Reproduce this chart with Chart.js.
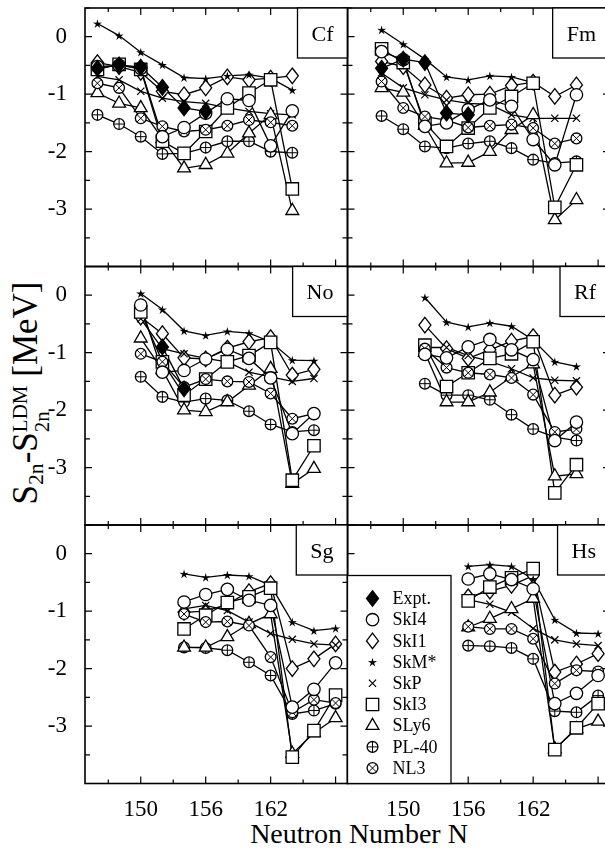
<!DOCTYPE html>
<html>
<head>
<meta charset="utf-8">
<script src="https://cdn.jsdelivr.net/npm/chart.js@4.4.1/dist/chart.umd.min.js"></script>
<style>
  html, body { margin: 0; padding: 0; background: #fff; overflow: hidden; }
  #wrap { position: relative; width: 612px; height: 850px; }
  #wrap canvas { position: absolute; left: 0; top: 0; }
  .ttl { position: absolute; font-family: "Liberation Serif", serif; color: #000; white-space: nowrap; line-height: 1; }
  #xtitle { left: 159px; width: 400px; top: 820px; text-align: center; font-size: 28px; }
  #ytitle { left: 30px; top: 393px; font-size: 35px; transform: translate(-50%, -50%) rotate(-90deg); }
  .sb { font-size: 0.62em; vertical-align: -0.3em; }
  .st { display: inline-block; font-size: 0.6em; line-height: 1.05; vertical-align: -0.55em; text-align: left; }
  .st span { display: block; }
</style>
</head>
<body>
<div id="wrap">
  <div class="ttl" id="xtitle">Neutron Number N</div>
  <div class="ttl" id="ytitle">S<span class="sb">2n</span>-S<span class="st"><span>LDM</span><span>2n</span></span> [MeV]</div>
</div>
<script>
// neutron numbers per panel
const cfN = [146, 148, 150, 152, 154, 156, 158, 160, 162, 164];
const fmN = [148, 150, 152, 154, 156, 158, 160, 162, 164, 166];
const noN = [150, 152, 154, 156, 158, 160, 162, 164, 166];
const rfN = [152, 154, 156, 158, 160, 162, 164, 166];
const sgN = [154, 156, 158, 160, 162, 164, 166, 168];
const hsN = [156, 158, 160, 162, 164, 166, 168];

// Cf
const cfExpt = [-0.55, -0.49, -0.53, -0.88, -1.24, -1.30, null, null, null, null];
const cfSkI4 = [-0.52, -0.50, -0.55, -1.74, -1.58, -1.33, -1.08, -1.11, -1.90, -1.29];
const cfSkI1 = [-0.45, -0.52, -0.62, -0.95, -1.01, -0.89, -0.70, -0.75, -0.72, -0.68];
const cfSkM = [0.23, 0.02, -0.27, -0.49, -0.71, -0.73, -0.68, -0.66, -0.72, -0.93];
const cfSkP = [-0.69, -0.75, -0.95, -1.07, -1.13, -1.16, -1.24, -1.30, -1.34, -1.36];
const cfSkI3 = [-0.57, -0.48, -0.57, -1.82, -2.03, -1.65, -1.24, -0.98, -0.75, -2.65];
const cfSLy6 = [-0.98, -1.16, -1.24, -1.78, -2.29, -2.23, -2.03, -1.68, -1.36, -3.03];
const cfPL40 = [-1.36, -1.52, -1.74, -2.04, -2.03, -1.93, -1.82, -1.82, -2.00, -2.02];
const cfNL3 = [-0.81, -0.89, -1.42, -1.56, -1.65, -1.62, -1.55, -1.45, -1.49, -1.55];

// Fm
const fmExpt = [-0.55, -0.39, -0.45, -1.33, -1.36, null, null, null, null, null];
const fmSkI4 = [-0.26, -0.40, -1.56, -1.50, -1.27, -1.10, -1.21, -1.79, -2.23, -1.01];
const fmSkI1 = [-0.43, -0.52, -0.84, -1.07, -1.01, -1.00, -0.85, -0.79, -1.04, -0.84];
const fmSkM = [0.12, -0.13, -0.39, -0.70, -0.75, -0.68, -0.70, -0.80, null, null];
const fmSkP = [-0.63, -0.89, -1.01, -1.10, -1.16, -1.18, -1.36, -1.42, -1.42, -1.42];
const fmSkI3 = [-0.21, -0.45, -1.50, -1.91, -1.59, -1.24, -1.04, -0.81, -2.97, -2.23];
const fmSLy6 = [-0.89, -0.97, -1.55, -2.20, -2.19, -2.00, -1.62, -1.36, -3.19, -2.84];
const fmPL40 = [-1.38, -1.61, -1.91, -1.94, -1.86, -1.82, -1.94, -2.14, -2.20, -2.17];
const fmNL3 = [-0.78, -1.24, -1.39, -1.45, -1.58, -1.55, -1.53, -1.59, -1.86, -1.77];

// No
const noExpt = [null, -0.90, -1.63, null, null, null, null, null, null];
const noSkI4 = [-0.17, -1.34, -1.31, -1.11, -0.94, -1.10, -1.44, -2.41, -2.06];
const noSkI1 = [-0.38, -0.67, -1.09, -1.11, -0.92, -0.81, -0.74, -1.39, -1.29];
const noSkM = [0.03, -0.25, -0.62, -0.70, -0.63, -0.66, -0.81, -1.13, -1.14];
const noSkP = [-0.41, -0.93, -1.02, -1.10, -1.16, -1.34, -1.42, -1.50, -1.45];
const noSkI3 = [-0.29, -1.16, -1.74, -1.46, -1.16, -1.05, -0.82, -3.22, -2.62];
const noSLy6 = [-0.75, -1.30, -2.00, -2.03, -1.86, -1.57, -1.28, -3.28, -3.02];
const noPL40 = [-1.42, -1.77, -1.86, -1.80, -1.83, -2.02, -2.25, -2.38, -2.35];
const noNL3 = [-1.02, -1.16, -1.60, -1.46, -1.50, -1.51, -1.71, -2.15, -2.06];

// Rf
const rfSkI4 = [-1.03, -1.09, -0.90, -0.77, -0.95, -1.12, -2.53, -2.21];
const rfSkI1 = [-0.52, -0.93, -1.10, -0.95, -0.80, -0.72, -1.74, -1.60];
const rfSkM = [-0.04, -0.47, -0.55, -0.48, -0.54, -0.78, -1.16, -1.24];
const rfSkP = [-0.91, -0.91, -1.05, -1.15, -1.28, -1.44, -1.48, -1.49];
const rfSkI3 = [-0.87, -1.59, -1.35, -1.10, -1.02, -0.81, -3.44, -2.95];
const rfSLy6 = [-1.00, -1.86, -1.86, -1.69, -1.42, -1.20, -3.15, -3.11];
const rfPL40 = [-1.54, -1.74, -1.74, -1.82, -2.08, -2.33, -2.47, -2.53];
const rfNL3 = [-0.93, -1.26, -1.35, -1.38, -1.44, -1.73, -2.38, -2.33];

// Sg
const sgSkI4 = [-0.84, -0.71, -0.62, -0.81, -0.90, -2.67, -2.36, -1.90];
const sgSkI1 = [-1.02, -1.00, -0.88, -0.66, -0.52, -2.00, -1.83, -1.57];
const sgSkM = [-0.35, -0.41, -0.37, -0.39, -0.55, -1.19, -1.34, -1.30];
const sgSkP = [-0.96, -0.90, -0.99, -1.19, -1.39, -1.49, -1.57, -1.59];
const sgSkI3 = [-1.31, -1.07, -0.85, -0.75, -0.60, -3.54, -3.08, -2.46];
const sgSLy6 = [-1.63, -1.63, -1.45, -1.22, -1.05, -3.48, -3.12, -2.86];
const sgPL40 = [-1.63, -1.64, -1.68, -1.89, -2.12, -2.79, -2.73, -2.61];
const sgNL3 = [-1.05, -1.19, -1.18, -1.25, -1.80, -2.76, -2.54, -2.60];

// Hs
const hsSkI4 = [-0.44, -0.35, -0.45, -0.61, -2.61, -2.43, -2.12];
const hsSkI1 = [-0.75, -0.65, -0.55, -0.38, -2.06, -1.92, -1.74];
const hsSkM = [-0.22, -0.19, -0.22, -0.44, -1.15, -1.38, -1.39];
const hsSkP = [-0.80, -0.88, -1.02, -1.30, -1.50, -1.57, -1.60];
const hsSkI3 = [-0.82, -0.58, -0.42, -0.26, -3.41, -3.03, -2.61];
const hsSLy6 = [-1.28, -1.13, -0.96, -0.78, -3.40, -3.05, -2.92];
const hsPL40 = [-1.60, -1.61, -1.64, -1.83, -2.74, -2.76, -2.47];
const hsNL3 = [-1.27, -1.31, -1.31, -1.48, -2.26, -2.03, -2.05];

const seriesNames = ['Expt.', 'SkI4', 'SkI1', 'SkM*', 'SkP', 'SkI3', 'SLy6', 'PL-40', 'NL3'];
const xTickLabels = [150, 156, 162];
const yTickLabels = [0, -1, -2, -3];
const xTickMarks = [147, 150, 153, 156, 159, 162, 165, 168];
const yTickMarks = [0.5, 0, -0.5, -1, -1.5, -2, -2.5, -3, -3.5, -4];

const FONT = '"Liberation Serif", serif';

// marker shape per series, and which one sits on top (higher z drawn later)
const shapeOf = { 'Expt.': 'fdiamond', 'SkI4': 'circle', 'SkI1': 'diamond', 'SkM*': 'star', 'SkP': 'cross',
  'SkI3': 'square', 'SLy6': 'triangle', 'PL-40': 'oplus', 'NL3': 'otimes' };
const zOf = { 'SkI1': 0, 'PL-40': 1, 'SkM*': 2, 'SkP': 3, 'SLy6': 4, 'SkI3': 5, 'NL3': 6, 'SkI4': 7, 'Expt.': 8 };

function drawMarker(ctx, shape, x, y) {
  ctx.save();
  ctx.strokeStyle = '#000';
  ctx.fillStyle = '#fff';
  ctx.lineWidth = 1.3;
  ctx.beginPath();
  if (shape === 'circle') {
    ctx.arc(x, y, 6.2, 0, Math.PI * 2);
    ctx.fill(); ctx.stroke();
  } else if (shape === 'square') {
    ctx.rect(x - 6.2, y - 6.2, 12.4, 12.4);
    ctx.fill(); ctx.stroke();
  } else if (shape === 'triangle') {
    const r = 7.4, h = r * Math.sin(Math.PI / 3);
    ctx.moveTo(x, y - r); ctx.lineTo(x + h, y + r / 2); ctx.lineTo(x - h, y + r / 2); ctx.closePath();
    ctx.fill(); ctx.stroke();
  } else if (shape === 'diamond' || shape === 'fdiamond') {
    ctx.moveTo(x, y - 7.8); ctx.lineTo(x + 6, y); ctx.lineTo(x, y + 7.8); ctx.lineTo(x - 6, y); ctx.closePath();
    if (shape === 'fdiamond') ctx.fillStyle = '#000';
    ctx.fill(); ctx.stroke();
  } else if (shape === 'cross') {
    const d = 3.6;
    ctx.moveTo(x - d, y - d); ctx.lineTo(x + d, y + d); ctx.moveTo(x + d, y - d); ctx.lineTo(x - d, y + d);
    ctx.lineWidth = 1.2; ctx.stroke();
  } else if (shape === 'star') {
    for (let i = 0; i < 10; i++) {
      const r = i % 2 ? 1.7 : 4.8;
      const a = -Math.PI / 2 + i * Math.PI / 5;
      ctx.lineTo(x + r * Math.cos(a), y + 0.5 + r * Math.sin(a));
    }
    ctx.closePath(); ctx.fillStyle = '#000'; ctx.fill();
  } else if (shape === 'oplus' || shape === 'otimes') {
    const r = 5.4;
    ctx.arc(x, y, r, 0, Math.PI * 2);
    ctx.fill(); ctx.stroke();
    ctx.beginPath();
    if (shape === 'oplus') {
      ctx.moveTo(x - r, y); ctx.lineTo(x + r, y); ctx.moveTo(x, y - r); ctx.lineTo(x, y + r);
    } else {
      const d = r * Math.SQRT1_2;
      ctx.moveTo(x - d, y - d); ctx.lineTo(x + d, y + d); ctx.moveTo(x + d, y - d); ctx.lineTo(x - d, y + d);
    }
    ctx.lineWidth = 1; ctx.stroke();
  }
  ctx.restore();
}

const L0 = 85, MID = 347.5, R0 = 610;
const rows = [[8, 266.5], [266.5, 525], [525, 783.5]];
const Y_AXIS_W = 60, X_AXIS_H = 50;

const panels = [
  { name: 'Cf', n: cfN, area: [L0, rows[0][0], MID, rows[0][1]], ylab: true, xlab: false,
    vals: [cfExpt, cfSkI4, cfSkI1, cfSkM, cfSkP, cfSkI3, cfSLy6, cfPL40, cfNL3] },
  { name: 'Fm', n: fmN, area: [MID, rows[0][0], R0, rows[0][1]], ylab: false, xlab: false,
    vals: [fmExpt, fmSkI4, fmSkI1, fmSkM, fmSkP, fmSkI3, fmSLy6, fmPL40, fmNL3] },
  { name: 'No', n: noN, area: [L0, rows[1][0], MID, rows[1][1]], ylab: true, xlab: false,
    vals: [noExpt, noSkI4, noSkI1, noSkM, noSkP, noSkI3, noSLy6, noPL40, noNL3] },
  { name: 'Rf', n: rfN, area: [MID, rows[1][0], R0, rows[1][1]], ylab: false, xlab: false,
    vals: [null, rfSkI4, rfSkI1, rfSkM, rfSkP, rfSkI3, rfSLy6, rfPL40, rfNL3] },
  { name: 'Sg', n: sgN, area: [L0, rows[2][0], MID, rows[2][1]], ylab: true, xlab: true,
    vals: [null, sgSkI4, sgSkI1, sgSkM, sgSkP, sgSkI3, sgSLy6, sgPL40, sgNL3] },
  { name: 'Hs', n: hsN, area: [MID, rows[2][0], R0, rows[2][1]], ylab: false, xlab: true, legend: true,
    vals: [null, hsSkI4, hsSkI1, hsSkM, hsSkP, hsSkI3, hsSLy6, hsPL40, hsNL3] }
];

const panelDeco = {
  id: 'panelDeco',
  afterDatasetsDraw(chart) {
    const ctx = chart.ctx;
    const metas = chart.data.datasets.map((ds, i) => ({ ds, meta: chart.getDatasetMeta(i) }));
    metas.sort((a, b) => zOf[a.ds.label] - zOf[b.ds.label]);
    metas.forEach(({ ds, meta }) => {
      meta.data.forEach((pt, j) => {
        if (ds.data[j].y === null) return;
        drawMarker(ctx, shapeOf[ds.label], pt.x, pt.y);
      });
    });
  },
  afterDraw(chart, args, opts) {
    const { ctx, chartArea: a, scales: { x, y } } = chart;
    ctx.save();
    ctx.strokeStyle = '#000';
    ctx.lineWidth = 1.2;
    ctx.beginPath();
    xTickMarks.forEach(v => {
      const px = x.getPixelForValue(v);
      const len = v % 6 === 0 ? 7 : 4;
      ctx.moveTo(px, a.bottom); ctx.lineTo(px, a.bottom - len);
      ctx.moveTo(px, a.top); ctx.lineTo(px, a.top + len);
    });
    yTickMarks.forEach(v => {
      const py = y.getPixelForValue(v);
      const len = Number.isInteger(v) ? 7 : 5;
      ctx.moveTo(a.left, py); ctx.lineTo(a.left + len, py);
      ctx.moveTo(a.right, py); ctx.lineTo(a.right - len, py);
    });
    ctx.stroke();
    ctx.lineWidth = 1.6;
    ctx.strokeRect(a.left, a.top, a.right - a.left, a.bottom - a.top);

    // element name in a box at the upper right
    ctx.font = '22px ' + FONT;
    const tw = ctx.measureText(opts.label).width;
    const bw = tw + 28, bh = 50;
    ctx.fillStyle = '#fff';
    ctx.fillRect(a.right - bw, a.top, bw, bh);
    ctx.lineWidth = 1.3;
    ctx.strokeRect(a.right - bw, a.top, bw, bh);
    ctx.fillStyle = '#000';
    ctx.textAlign = 'center';
    ctx.textBaseline = 'middle';
    ctx.fillText(opts.label, a.right - bw / 2, a.top + bh / 2 + 2);

    if (opts.legend) {
      const lx = a.left, ly = 575.5, lw = 103.5, lh = a.bottom - ly;
      ctx.fillStyle = '#fff';
      ctx.fillRect(lx, ly, lw, lh);
      ctx.lineWidth = 1.3;
      ctx.strokeRect(lx, ly, lw, lh);
      ctx.font = '18px ' + FONT;
      ctx.textAlign = 'left';
      seriesNames.forEach((s, i) => {
        const yy = ly + 23 + i * 21.2;
        drawMarker(ctx, shapeOf[s], lx + 25, yy);
        ctx.fillStyle = '#000';
        ctx.fillText(s, lx + 45, yy + 1);
      });
    }
    ctx.restore();
  }
};

const wrap = document.getElementById('wrap');

panels.forEach(p => {
  const cv = document.createElement('canvas');
  cv.width = 612; cv.height = 850;
  wrap.appendChild(cv);
  const [L, T, R, B] = p.area;
  const yw = p.ylab ? Y_AXIS_W : 0;
  const xh = p.xlab ? X_AXIS_H : 0;
  const datasets = [];
  seriesNames.forEach((s, i) => {
    const vals = p.vals[i];
    if (!vals) return;
    datasets.push({
      label: s,
      data: p.n.map((n, j) => ({ x: n, y: vals[j] })),
      borderColor: '#000',
      borderWidth: 1.3,
      tension: 0,
      fill: false,
      pointRadius: 0,
      pointHitRadius: 0
    });
  });
  new Chart(cv, {
    type: 'line',
    data: { datasets },
    options: {
      responsive: false,
      animation: false,
      devicePixelRatio: 1,
      events: [],
      layout: { padding: { left: L - yw, top: T, right: 612 - R, bottom: 850 - B - xh } },
      plugins: {
        legend: { display: false },
        tooltip: { enabled: false },
        panelDeco: { label: p.name, legend: !!p.legend }
      },
      scales: {
        x: {
          type: 'linear', min: 144.85, max: 169.1,
          display: p.xlab,
          grid: { display: false, drawTicks: false },
          border: { display: false },
          afterBuildTicks: s => { s.ticks = xTickLabels.map(v => ({ value: v })); },
          afterFit: s => { s.height = xh; s.paddingLeft = 0; s.paddingRight = 0; },
          ticks: { padding: 13, color: '#000', font: { family: FONT, size: 23 }, maxRotation: 0, autoSkip: false }
        },
        y: {
          type: 'linear', min: -4, max: 0.5,
          display: p.ylab,
          grid: { display: false, drawTicks: false },
          border: { display: false },
          afterBuildTicks: s => { s.ticks = yTickLabels.map(v => ({ value: v })); },
          afterFit: s => { s.width = yw; s.paddingTop = 0; s.paddingBottom = 0; },
          ticks: { padding: 18, color: '#000', font: { family: FONT, size: 23 }, autoSkip: false }
        }
      }
    },
    plugins: [panelDeco]
  });
});
</script>
</body>
</html>
